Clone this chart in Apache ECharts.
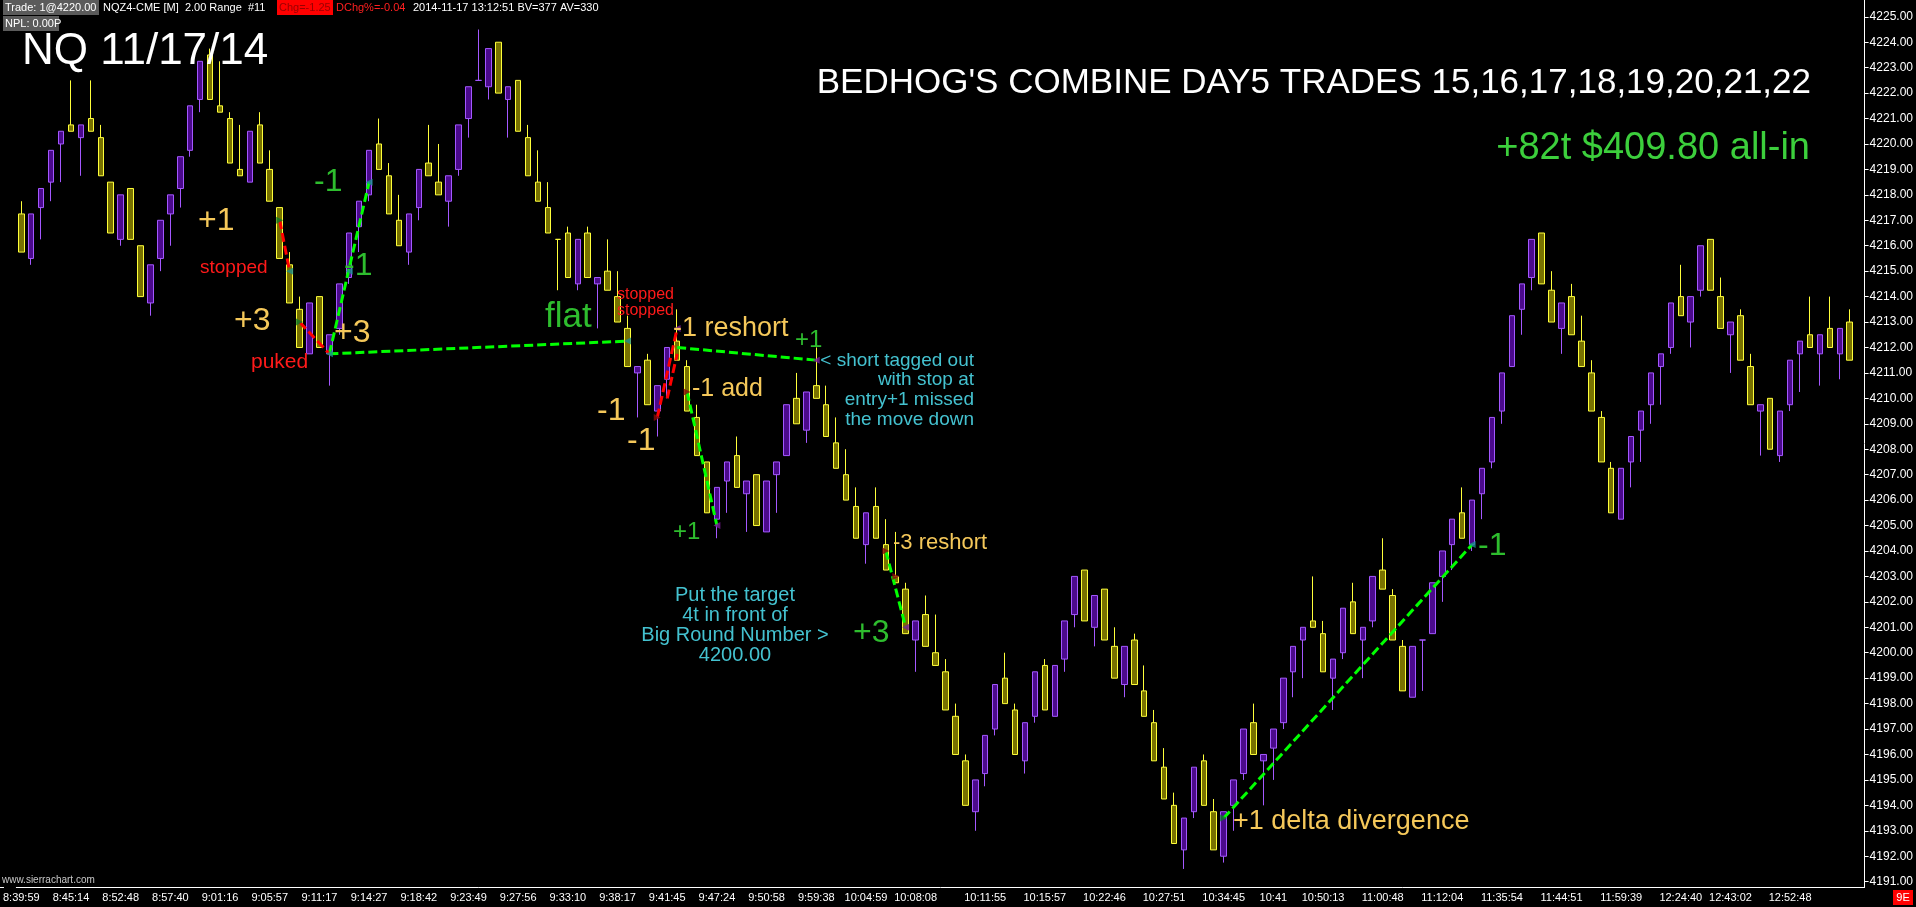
<!DOCTYPE html>
<html><head><meta charset="utf-8">
<script src="https://cdn.jsdelivr.net/npm/echarts@6/dist/echarts.min.js"></script>
<style>html,body{margin:0;padding:0;background:#000;overflow:hidden}#c{width:1916px;height:907px}</style>
</head><body><div id="c"></div>
<script>
// ---- 2.00 Range bars, NQZ4 11/17/14 ----
const opens = [4217.25,4215.5,4217.5,4218.5,4220,4220.75,4220.25,4221,4220.25,4218.5,
4216.25,4218.25,4216,4213.75,4215.5,4217.25,4218.25,4219.75,4221.75,4223.5,
4221.5,4221,4219,4218.5,4220.75,4219,4217.5,4215.25,4213.5,4211.75,
4214,4211.75,4212.75,4214.75,4216.75,4218,4220,4218.75,4217,4215.75,
4217.5,4219.25,4218.5,4217.75,4219,4221,4222.5,4222.25,4224,4221.75,
4222.5,4220.25,4218.5,4217.5,4216.25,4216.5,4214.5,4216.5,4214.5,4215,
4214,4212.75,4211,4211.5,4209.5,4210.75,4212.25,4211.25,4209.25,4207.5,
4205.25,4206.75,4207.75,4206.25,4207,4204.75,4207,4207.75,4210,4208.75,
4210.5,4209.75,4208.25,4207,4205.75,4204.25,4205.75,4204.25,4203,4202.5,
4200.5,4201.5,4200,4199.25,4197.5,4195.75,4193.75,4195.25,4197,4199,
4197.75,4195.75,4197.5,4199.5,4197.5,4199.75,4201.5,4203.25,4201,4202.5,
4200.25,4198.75,4200.5,4198.5,4197.25,4195.5,4194,4192.25,4193.75,4195.75,
4193.75,4192,4194,4195.25,4197.25,4195.75,4196.25,4197.25,4199.25,4200.5,
4201.25,4200.75,4199,4200,4202,4200.5,4201.25,4203.25,4202.25,4200.25,
4198.25,4200.5,4200.75,4203,4204.25,4205.5,4204.25,4206.25,4207.5,4209.5,
4211.25,4213.5,4214.75,4216.5,4214.25,4212.75,4214,4212.25,4211,4209.25,
4207.25,4205.25,4207.5,4208.75,4209.75,4211.25,4212,4214,4213,4214.25,
4216.25,4214,4212.5,4213.25,4211.25,4209.5,4210,4207.75,4209.75,4211.75,
4212.5,4211.75,4212.75,4211.75,4213];
const closes = [4215.75,4217.25,4218.25,4219.75,4220.5,4220.5,4220.75,4220.5,4218.75,4216.5,
4218,4216.25,4214,4215.25,4217,4218,4219.5,4221.5,4223.25,4221.75,
4221.25,4219.25,4218.75,4220.5,4219.25,4217.75,4215.5,4213.75,4212,4213.75,
4212,4212.5,4214.5,4216.5,4217.75,4219.75,4219,4217.25,4216,4217.25,
4219,4218.75,4218,4218.75,4220.75,4222.25,4222.5,4223.75,4222,4222.25,
4220.5,4218.75,4217.75,4216.5,4216.25,4214.75,4216.25,4214.75,4214.75,4214.25,
4213,4211.25,4211.25,4209.75,4210.5,4212,4211.5,4209.5,4207.75,4205.5,
4206.5,4207.5,4206.5,4206.75,4205,4206.75,4207.5,4209.75,4209,4210.25,
4210,4208.5,4207.25,4206,4204.5,4205.5,4204.5,4203.25,4202.75,4200.75,
4201.25,4200.25,4199.5,4197.75,4196,4194,4195,4196.75,4198.75,4198,
4196,4197.25,4199.25,4197.75,4199.5,4201.25,4203,4201.25,4202.25,4200.5,
4199,4200.25,4198.75,4197.5,4195.75,4194.25,4192.5,4193.5,4195.5,4194,
4192.25,4193.75,4195,4197,4196,4196,4197,4199,4200.25,4201,
4201,4199.25,4199.75,4201.75,4200.75,4201,4203,4202.5,4200.5,4198.5,
4200.25,4200.5,4202.75,4204,4205.25,4204.5,4206,4207.25,4209.25,4211,
4213.25,4214.5,4216.25,4214.5,4213,4213.75,4212.5,4211.25,4209.5,4207.5,
4205.5,4207.25,4208.5,4209.5,4211,4211.75,4213.75,4213.25,4214,4216,
4214.25,4212.75,4213,4211.5,4209.75,4209.75,4208,4209.5,4211.5,4212.25,
4212,4212.5,4212,4212.75,4211.5];
const lows = [4215.75,4215.25,4216.25,4217.75,4218.5,4220.5,4218.75,4220.5,4218.75,4216.5,
4216,4216.25,4214,4213.25,4215,4216,4217.5,4219.5,4221.25,4221.75,
4221.25,4219.25,4218.75,4218.5,4219.25,4217.75,4215.5,4213.75,4212,4211.75,
4212,4210.5,4212.5,4214.5,4215.75,4217.75,4219,4217.25,4216,4215.25,
4217,4218.75,4218,4216.75,4218.75,4220.25,4222.5,4221.75,4222,4220.25,
4220.5,4218.75,4217.75,4216.5,4214.25,4214.75,4214.25,4214.75,4212.75,4214.25,
4213,4211.25,4209.25,4209.75,4208.5,4210,4211.5,4209.5,4207.75,4205.5,
4204.5,4205.5,4206.5,4204.75,4205,4204.75,4205.5,4207.75,4209,4208.25,
4210,4208.5,4207.25,4206,4204.5,4203.5,4204.5,4203.25,4202.75,4200.75,
4199.25,4200.25,4199.5,4197.75,4196,4194,4193,4194.75,4196.75,4198,
4196,4195.25,4197.25,4197.75,4197.5,4199.25,4201,4201.25,4200.25,4200.5,
4199,4198.25,4198.75,4197.5,4195.75,4194.25,4192.5,4191.5,4193.5,4194,
4192.25,4191.75,4193,4195,4196,4194,4195,4197,4198.25,4199,
4201,4199.25,4197.75,4199.75,4200.75,4199,4201,4202.5,4200.5,4198.5,
4198.25,4198.5,4200.75,4202,4203.25,4204.5,4204,4205.25,4207.25,4209,
4211.25,4212.5,4214.25,4214.5,4213,4211.75,4212.5,4211.25,4209.5,4207.5,
4205.5,4205.25,4206.5,4207.5,4209,4209.75,4211.75,4213.25,4212,4214,
4214.25,4212.75,4211,4211.5,4209.75,4207.75,4208,4207.5,4209.5,4210.25,
4212,4210.5,4212,4210.75,4211.5];
const highs = [4217.75,4217.25,4218.25,4219.75,4220.5,4222.5,4220.75,4222.5,4220.75,4218.5,
4218,4218.25,4216,4215.25,4217,4218,4219.5,4221.5,4223.25,4223.75,
4223.25,4221.25,4220.75,4220.5,4221.25,4219.75,4217.5,4215.75,4214,4213.75,
4214,4212.5,4214.5,4216.5,4217.75,4219.75,4221,4219.25,4218,4217.25,
4219,4220.75,4220,4218.75,4220.75,4222.25,4224.5,4223.75,4224,4222.25,
4222.5,4220.75,4219.75,4218.5,4216.25,4216.75,4216.25,4216.75,4214.75,4216.25,
4215,4213.25,4211.25,4211.75,4210.5,4212,4213.5,4211.5,4209.75,4207.5,
4206.5,4207.5,4208.5,4206.75,4207,4206.75,4207.5,4209.75,4211,4210.25,
4212,4210.5,4209.25,4208,4206.5,4205.5,4206.5,4205.25,4204.75,4202.75,
4201.25,4202.25,4201.5,4199.75,4198,4196,4195,4196.75,4198.75,4200,
4198,4197.25,4199.25,4199.75,4199.5,4201.25,4203,4203.25,4202.25,4202.5,
4201,4200.25,4200.75,4199.5,4197.75,4196.25,4194.5,4193.5,4195.5,4196,
4194.25,4193.75,4195,4197,4198,4196,4197,4199,4200.25,4201,
4203,4201.25,4199.75,4201.75,4202.75,4201,4203,4204.5,4202.5,4200.5,
4200.25,4200.5,4202.75,4204,4205.25,4206.5,4206,4207.25,4209.25,4211,
4213.25,4214.5,4216.25,4216.5,4215,4213.75,4214.5,4213.25,4211.5,4209.5,
4207.5,4207.25,4208.5,4209.5,4211,4211.75,4213.75,4215.25,4214,4216,
4216.25,4214.75,4213,4213.5,4211.75,4209.75,4210,4209.5,4211.5,4212.25,
4214,4212.5,4214,4212.75,4213.5];

// time-axis labels (bar index -> time text)
const timeLabelBars = [0,5,10,15,20,25,30,35,40,45,50,55,60,65,70,75,80,85,90,
  97,103,109,115,121,126,131,137,143,149,155,161,167,172,178];
const timeLabels = ["8:39:59","8:45:14","8:52:48","8:57:40","9:01:16","9:05:57","9:11:17","9:14:27","9:18:42",
  "9:23:49","9:27:56","9:33:10","9:38:17","9:41:45","9:47:24","9:50:58","9:59:38","10:04:59","10:08:08",
  "10:11:55","10:15:57","10:22:46","10:27:51","10:34:45","10:41","10:50:13","11:00:48","11:12:04",
  "11:35:54","11:44:51","11:59:39","12:24:40","12:43:02","12:52:48"];
const yTicks = [4191,4192,4193,4194,4195,4196,4197,4198,4199,4200,4201,4202,4203,4204,4205,4206,4207,4208,
  4209,4210,4211,4212,4213,4214,4215,4216,4217,4218,4219,4220,4221,4222,4223,4224,4225];
const lastPrice = 4211.5;

// drawn trade lines: [barIndex, price] endpoints
const greenTrades = [
  [[31,4211.75],[35,4218.5]],
  [[31,4211.75],[61,4212.25]],
  [[66,4212.0],[80,4211.5]],
  [[67,4210.25],[70,4205.0]],
  [[87,4204.0],[89,4201.0]],
  [[121,4193.5],[146,4204.25]]
];
const redTrades = [
  [[26,4217.0],[27,4215.0]],
  [[27.8,4213.0],[31,4211.75]],
  [[63.7,4209.25],[65.9,4212.75]],
  [[64.6,4210.0],[65.5,4211.75]]
];
// entry / exit markers: [barIndex, price, kind]
const markBars   = [26, 27, 27.8, 31, 33, 35, 61, 63.7, 66, 67, 70, 80, 87, 88, 89, 121, 146];
const markPrices = [4217.0, 4215.0, 4213.0, 4211.75, 4215.0, 4218.5, 4212.25, 4209.25, 4212.75, 4210.25, 4205.0, 4211.5, 4204.0, 4203.0, 4201.0, 4193.5, 4204.25];
const markKinds  = ['buy','exit','buy','exit','exit','exit','exit','sell','cover','sell','cover','cover','sell','sell','cover','buy','exit'];

const YEL = '#f5c85a', GRN = '#2ebd2e', RED = '#ff1a1a', CYN = '#44c2d0';
const FONT = '"Liberation Sans", Arial, sans-serif';
const notes = [
  ['+1', 198, 221, 32, YEL, 'left'],
  ['stopped', 200, 268, 19, RED, 'left'],
  ['+3', 234, 321, 32, YEL, 'left'],
  ['puked', 251, 362, 21, RED, 'left'],
  ['-1', 314, 182, 32, GRN, 'left'],
  ['-1', 344, 266, 32, GRN, 'left'],
  ['+3', 334, 333, 32, YEL, 'left'],
  ['flat', 545, 317, 35, GRN, 'left'],
  ['stopped', 617, 295, 16, RED, 'left'],
  ['stopped', 617, 311, 16, RED, 'left'],
  ['-1 reshort', 673, 329, 27, YEL, 'left'],
  ['+1', 795, 340, 24, GRN, 'left'],
  ['< short tagged out\nwith stop at\nentry+1 missed\nthe move down', 974, 390, 19, CYN, 'right', 19.7],
  ['-1 add', 692, 389, 25, YEL, 'left'],
  ['-1', 597, 411, 32, YEL, 'left'],
  ['-1', 627, 441, 32, YEL, 'left'],
  ['+1', 673, 532, 24, GRN, 'left'],
  ['-3 reshort', 893, 543, 22, YEL, 'left'],
  ['Put the target\n4t in front of\nBig Round Number >\n4200.00', 735, 625, 20, CYN, 'center', 20],
  ['+3', 853, 633, 32, GRN, 'left'],
  ['+1 delta divergence', 1233, 822, 27, YEL, 'left'],
  ['-1', 1478, 546, 32, GRN, 'left'],
  ['NQ 11/17/14', 22, 52, 44, '#ffffff', 'left'],
  ["BEDHOG'S COMBINE DAY5 TRADES 15,16,17,18,19,20,21,22", 1811, 83, 35, '#ffffff', 'right'],
  ['+82t $409.80 all-in', 1810, 149, 38, '#3ccf3c', 'right']
];

const N = opens.length;
const cats = Array.from({length: N + 1}, (_, i) => String(i));
const labelMap = {};
timeLabelBars.forEach((b, k) => { labelMap[b] = timeLabels[k]; });
const candleData = opens.map((o, i) => [o, closes[i], lows[i], highs[i]]);

const lineSeries = (list, color) => list.map(seg => ({
  type: 'line', data: seg, symbol: 'none', silent: true, z: 5,
  lineStyle: {color: color, width: 3, type: [9, 4]}
}));
const kindStyle = {
  buy:   {color: '#0a7a2a', rotate: -90},
  exit:  {color: '#1a8f8f', rotate: 90},
  sell:  {color: '#8b0a0a', rotate: -90},
  cover: {color: '#7a1a9a', rotate: 90}
};
const markerData = markBars.map((b, i) => ({
  value: [b, markPrices[i]],
  symbolRotate: kindStyle[markKinds[i]].rotate,
  itemStyle: {color: kindStyle[markKinds[i]].color}
}));

const graphics = [];
notes.forEach(n => {
  graphics.push({type: 'text', z: 10, style: {text: n[0], x: n[1], y: n[2], fill: n[4],
    font: n[3] + 'px ' + FONT, textAlign: n[5], textVerticalAlign: 'middle', lineHeight: n[6] || undefined}});
});
// header
const hdrFont = '11px ' + FONT;
graphics.push(
  {type: 'rect', shape: {x: 3, y: 0, width: 96, height: 15}, style: {fill: '#5b5b5b'}},
  {type: 'text', style: {text: 'Trade: 1@4220.00', x: 5, y: 8, fill: '#fff', font: hdrFont, textVerticalAlign: 'middle'}},
  {type: 'text', style: {text: 'NQZ4-CME [M]  2.00 Range  #11', x: 103, y: 8, fill: '#fff', font: hdrFont, textVerticalAlign: 'middle'}},
  {type: 'rect', shape: {x: 277, y: 0, width: 56, height: 15}, style: {fill: '#ff0000'}},
  {type: 'text', style: {text: 'Chg=-1.25', x: 279, y: 8, fill: '#990000', font: hdrFont, textVerticalAlign: 'middle'}},
  {type: 'text', style: {text: 'DChg%=-0.04', x: 336, y: 8, fill: '#ff2020', font: hdrFont, textVerticalAlign: 'middle'}},
  {type: 'text', style: {text: '2014-11-17 13:12:51 BV=377 AV=330', x: 413, y: 8, fill: '#fff', font: hdrFont, textVerticalAlign: 'middle'}},
  {type: 'rect', shape: {x: 3, y: 16, width: 56, height: 15}, style: {fill: '#5b5b5b'}},
  {type: 'text', style: {text: 'NPL: 0.00P', x: 5, y: 24, fill: '#fff', font: hdrFont, textVerticalAlign: 'middle'}},
  {type: 'text', style: {text: 'www.sierrachart.com', x: 2, y: 880, fill: '#c8c8c8', font: '10px ' + FONT, textVerticalAlign: 'middle'}},
  {type: 'line', shape: {x1: 0, y1: 887.5, x2: 4, y2: 887.5}, style: {stroke: '#fff', lineWidth: 1}},
  {type: 'rect', shape: {x: 1893, y: 890, width: 20, height: 15}, style: {fill: '#ff0000'}},
  {type: 'text', style: {text: '9E', x: 1903, y: 898, fill: '#fff', font: '11px ' + FONT, textAlign: 'center', textVerticalAlign: 'middle'}}
);

const chart = echarts.init(document.getElementById('c'), null, {renderer: 'canvas'});
chart.setOption({
  backgroundColor: '#000',
  animation: false,
  grid: {left: 3, right: 50, top: 0, bottom: 20, containLabel: false},
  xAxis: {
    type: 'category', data: cats, boundaryGap: true,
    axisLine: {lineStyle: {color: '#fff', width: 1}},
    axisTick: {alignWithLabel: true, length: 3, lineStyle: {color: '#fff'},
      interval: (i) => labelMap[i] !== undefined},
    axisLabel: {color: '#fff', fontSize: 11, fontFamily: FONT, margin: 5,
      interval: (i) => labelMap[i] !== undefined,
      formatter: (v, i) => labelMap[i] || ''},
    splitLine: {show: false}
  },
  yAxis: {
    type: 'value', position: 'right', min: 4190.79, max: 4225.66, scale: true,
    axisLine: {show: true, lineStyle: {color: '#fff', width: 1}},
    axisTick: {show: true, length: 4, lineStyle: {color: '#fff'}, customValues: yTicks},
    axisLabel: {color: '#fff', fontSize: 12, fontFamily: FONT, margin: 5, customValues: yTicks,
      formatter: (v) => v.toFixed(2)},
    splitLine: {show: false}
  },
  series: [{
    type: 'candlestick', data: candleData, barWidth: 6, z: 3,
    itemStyle: {color: '#4b0a8c', color0: '#787200', borderColor: '#a458ff', borderColor0: '#ffff3a', borderWidth: 1},
    markLine: {
      silent: true, symbol: 'none', animation: false,
      lineStyle: {opacity: 0},
      label: {show: true, position: 'end', distance: 5, formatter: lastPrice.toFixed(2),
        backgroundColor: '#c4c4c4', color: '#222', fontSize: 12, fontFamily: FONT, padding: [2, 1, 1, 1]},
      data: [{yAxis: lastPrice}]
    }
  }].concat(lineSeries(greenTrades, '#00ff00'), lineSeries(redTrades, '#ff0000'), [{
    type: 'scatter', data: markerData, symbol: 'triangle', symbolSize: 7, z: 6, silent: true
  }]),
  graphic: graphics
});
</script>
</body></html>
